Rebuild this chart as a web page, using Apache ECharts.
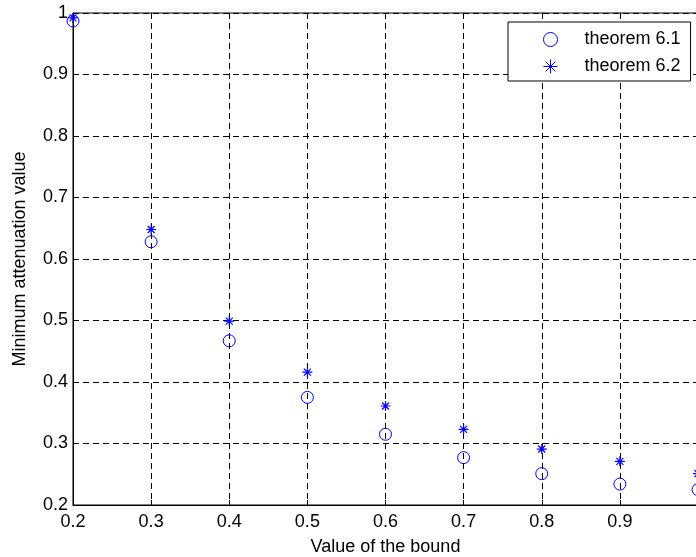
<!DOCTYPE html>
<html>
<head>
<meta charset="utf-8">
<script src="https://cdn.jsdelivr.net/npm/echarts@6/dist/echarts.min.js"></script>
<style>
html,body{margin:0;padding:0;background:#fff;}
#chart{width:696px;height:557px;}
</style>
</head>
<body>
<div id="chart"></div>
<script>
var bounds = [0.2, 0.3, 0.4, 0.5, 0.6, 0.7, 0.8, 0.9, 1.0];
var theorem61 = [0.987, 0.628, 0.467, 0.375, 0.315, 0.277, 0.251, 0.234, 0.225];
var theorem62 = [0.992, 0.648, 0.499, 0.416, 0.361, 0.323, 0.291, 0.271, 0.251];
var seriesNames = ['theorem 6.1', 'theorem 6.2'];
var xTitle = 'Value of the bound';
var yTitle = 'Minimum attenuation value';

var FONT = 'Liberation Sans, Arial, Helvetica, sans-serif';
var starPath = 'path://M0,5L10,5M5,0L5,10M1.5,1.5L8.5,8.5M8.5,1.5L1.5,8.5';

function pairs(vals){ return bounds.map(function(b,i){ return [b, vals[i]]; }); }
function fmt(v){ return +v.toFixed(1) === 1 ? '1' : v.toFixed(1); }

var chart = echarts.init(document.getElementById('chart'), null, {renderer:'canvas'});
var dash = {color:'#000', width:1, type:[6,4]};
chart.setOption({
  animation:false,
  backgroundColor:'#fff',
  grid:{left:73, top:13, right:-2, bottom:52, show:true, borderColor:'#000', borderWidth:1,
        backgroundColor:'#fff', containLabel:false, outerBoundsMode:'none'},
  xAxis:{
    type:'value', min:0.2, max:1.0, interval:0.1,
    name:xTitle, nameLocation:'middle', nameGap:33,
    nameTextStyle:{fontFamily:FONT, fontSize:18, color:'#000'},
    axisLine:{show:true, onZero:false, lineStyle:{color:'#000', width:1}},
    axisTick:{show:true, inside:true, length:5, lineStyle:{color:'#000'}},
    axisLabel:{fontFamily:FONT, fontSize:18, color:'#000', margin:8, showMaxLabel:false, formatter:fmt},
    splitLine:{show:true, lineStyle:dash}
  },
  yAxis:{
    type:'value', min:0.2, max:1.0, interval:0.1,
    name:yTitle, nameLocation:'middle', nameGap:44, nameRotate:90,
    nameTextStyle:{fontFamily:FONT, fontSize:18, color:'#000'},
    axisLine:{show:true, onZero:false, lineStyle:{color:'#000', width:1}},
    axisTick:{show:true, inside:true, length:5, lineStyle:{color:'#000'}},
    axisLabel:{fontFamily:FONT, fontSize:18, color:'#000', margin:5, formatter:fmt},
    splitLine:{show:true, lineStyle:dash}
  },
  legend:{
    show:true, orient:'vertical', left:508, top:22,
    backgroundColor:'#fff', borderColor:'#000', borderWidth:1, borderRadius:0,
    padding:[8, 10, 5, 33], itemWidth:14, itemHeight:14, itemGap:8,
    textStyle:{fontFamily:FONT, fontSize:18, lineHeight:18, color:'#000', padding:[0,0,0,22]},
    data:[
      {name:seriesNames[0], icon:'circle', itemStyle:{color:'none', borderColor:'#0000ff', borderWidth:1}},
      {name:seriesNames[1], icon:starPath, itemStyle:{color:'none', borderColor:'#0000ff', borderWidth:1}}
    ]
  },
  series:[
    {name:seriesNames[0], type:'scatter', data:pairs(theorem61), symbol:'circle', symbolSize:12,
      itemStyle:{color:'none', borderColor:'#0000ff', borderWidth:1, opacity:1}, z:3},
    {name:seriesNames[1], type:'scatter', data:pairs(theorem62), symbol:starPath, symbolSize:10,
      itemStyle:{color:'none', borderColor:'#0000ff', borderWidth:1.2, opacity:1}, z:4}
  ]
});
</script>
</body>
</html>
